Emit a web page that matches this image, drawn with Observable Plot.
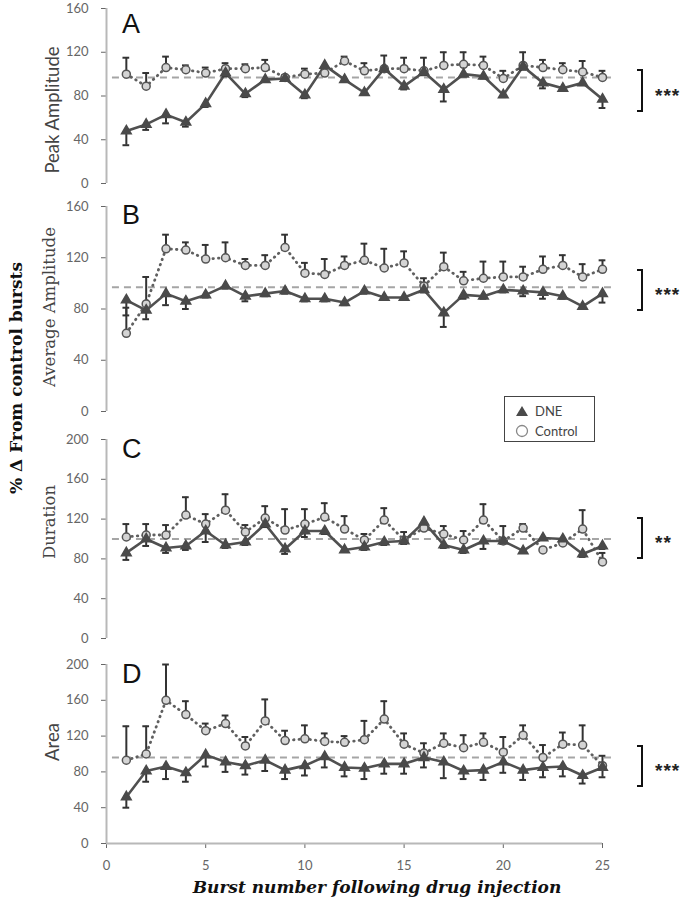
<!DOCTYPE html>
<html><head><meta charset="utf-8">
<script src="https://cdn.jsdelivr.net/npm/d3@7"></script>
<script src="https://cdn.jsdelivr.net/npm/@observablehq/plot@0.6"></script>
<style>
body{margin:0;background:#fff;}
#wrap{position:relative;width:689px;height:900px;overflow:hidden;background:#fff;}
.panel{position:absolute;left:0;}
.rot{position:absolute;white-space:nowrap;transform:translate(-50%,-50%) rotate(-90deg);line-height:1;}
.letter{position:absolute;font-family:"Liberation Sans",Arial,sans-serif;font-size:27px;line-height:27px;color:#111;}
.bracket{position:absolute;border:2.5px solid #111;border-left:none;width:6px;box-sizing:border-box;}
.stars{position:absolute;font-family:"Liberation Sans",sans-serif;font-weight:bold;font-size:19px;line-height:19px;color:#222;letter-spacing:1px;}
</style></head><body><div id="wrap"></div>
<script>
// ---- data ----
const bursts = [1,2,3,4,5,6,7,8,9,10,11,12,13,14,15,16,17,18,19,20,21,22,23,24,25];

const peakDNE   = [48,54,63,56,73,101,82,95,96,81,108,95,83,105,89,102,86,100,98,81,107,92,87,92,77];
const peakDNELo = [35,49,55,52,70,98,79,93,94,78,105,93,81,102,86,99,75,98,96,79,104,87,85,90,69];
const peakCtl   = [100,89,106,104,101,105,105,106,97,100,101,112,103,105,105,103,108,109,108,96,108,106,104,102,97];
const peakCtlHi = [115,101,116,108,106,110,109,113,99,105,104,116,110,117,115,115,120,120,116,103,120,113,110,112,103];

const avgDNE    = [87,79,92,86,91,98,90,92,94,88,88,85,94,89,89,95,77,91,90,95,94,93,90,82,92];
const avgDNELo  = [75,72,83,80,89,96,86,90,92,86,86,83,92,87,87,93,66,88,88,93,90,88,88,80,85];
const avgCtl    = [61,84,127,126,119,120,114,114,128,108,107,114,118,112,116,98,113,102,104,105,105,111,114,105,111];
const avgCtlHi  = [81,105,138,132,130,132,119,122,138,116,119,121,131,127,125,104,124,109,117,117,113,121,122,115,118];

const durDNE    = [86,100,91,93,108,94,97,115,90,108,108,89,92,97,98,117,94,89,98,98,88,101,100,85,93];
const durDNELo  = [79,93,86,89,97,91,94,112,85,102,105,87,89,94,95,114,91,86,90,95,86,99,98,82,90];
const durCtl    = [102,104,104,124,115,129,107,121,109,115,122,110,99,119,99,111,105,99,119,98,111,89,96,110,77];
const durCtlHi  = [115,115,114,142,125,145,114,133,130,130,136,123,105,131,107,113,113,108,135,113,115,90,97,129,86];

const areaDNE   = [52,81,86,79,99,91,87,93,82,87,97,85,84,89,89,96,91,81,82,91,82,85,86,76,85];
const areaDNELo = [40,69,72,69,86,80,77,81,72,76,85,75,72,78,78,85,73,72,71,79,71,74,75,67,74];
const areaCtl   = [93,100,160,144,126,134,109,137,115,117,114,113,116,139,111,101,112,107,113,102,121,96,111,110,87];
const areaCtlHi = [131,131,200,159,134,143,119,161,126,132,123,120,137,159,123,112,123,121,123,119,132,110,124,132,98];

const baselines = [97, 97, 100, 96];
const yTicks160 = [0,40,80,120,160];
const yTicks200 = [0,40,80,120,160,200];
const xTicks = [0,5,10,15,20,25];
const panelLetters = ["A","B","C","D"];
const panelLabels = ["Peak Amplitude","Average Amplitude","Duration","Area"];
const stars = ["***","***","**","***"];

// ---- drawing ----
const wrap = document.getElementById("wrap");

function panel(o){
  const data = bursts.map((b,i)=>({b, dne:o.dne[i], dneLo:o.dneLo[i], ctl:o.ctl[i], ctlHi:o.ctlHi[i]}));
  const cap = 0.17;
  const marks = [
    Plot.ruleX([0], {stroke:"#b8b8b8", strokeWidth:2}),
    o.xAxis ? Plot.ruleY([0], {stroke:"#b8b8b8", strokeWidth:2}) : null,
    Plot.ruleY([o.base], {x1:()=>0.3, x2:()=>25.5, stroke:"#a5a5a5", strokeWidth:2, strokeDasharray:"7,5"}),
    Plot.line(data, {x:"b", y:"ctl", stroke:"#606060", strokeWidth:2.8, strokeDasharray:"0.5,5", strokeLinecap:"round"}),
    Plot.ruleX(data, {x:"b", y1:"ctl", y2:"ctlHi", stroke:"#333", strokeWidth:2}),
    Plot.ruleY(data, {y:"ctlHi", x1:d=>d.b-cap, x2:d=>d.b+cap, stroke:"#333", strokeWidth:2}),
    Plot.line(data, {x:"b", y:"dne", stroke:"#505050", strokeWidth:2.6}),
    Plot.ruleX(data, {x:"b", y1:"dne", y2:"dneLo", stroke:"#333", strokeWidth:2}),
    Plot.ruleY(data, {y:"dneLo", x1:d=>d.b-cap, x2:d=>d.b+cap, stroke:"#333", strokeWidth:2}),
    Plot.dot(data, {x:"b", y:"ctl", r:4, fill:"#d4d4d4", stroke:"#555", strokeWidth:1.5}),
    Plot.dot(data, {x:"b", y:"dne", symbol:"triangle", r:3.6, fill:"#4a4a4a", stroke:"#4a4a4a"})
  ].filter(Boolean);
  const svg = Plot.plot({
    width:689, height:o.height,
    marginLeft:106, marginRight:87, marginTop:o.mt, marginBottom:o.mb,
    style:{background:"transparent", overflow:"visible", color:"#666", fontFamily:"Lato, sans-serif", fontSize:"13px"},
    x:{domain:[0,25], axis:o.xAxis ? "bottom" : null, ticks:xTicks, tickSize:5, tickPadding:12, label:null},
    y:{domain:o.yDomain, ticks:o.yTicks, tickSize:5, tickPadding:13, label:null},
    marks
  });
  svg.classList.add("panel");
  svg.style.top = o.top + "px";
  wrap.appendChild(svg);
}

panel({top:0, mt:8, mb:10, height:193, yDomain:[0,160], yTicks:yTicks160, dne:peakDNE, dneLo:peakDNELo, ctl:peakCtl, ctlHi:peakCtlHi, base:baselines[0]});
panel({top:196, mt:10, mb:10, height:225, yDomain:[0,160], yTicks:yTicks160, dne:avgDNE, dneLo:avgDNELo, ctl:avgCtl, ctlHi:avgCtlHi, base:baselines[1]});
panel({top:429, mt:10, mb:10, height:219, yDomain:[0,200], yTicks:yTicks200, dne:durDNE, dneLo:durDNELo, ctl:durCtl, ctlHi:durCtlHi, base:baselines[2]});
panel({top:654, mt:10, mb:35, height:224, yDomain:[0,200], yTicks:yTicks200, dne:areaDNE, dneLo:areaDNELo, ctl:areaCtl, ctlHi:areaCtlHi, base:baselines[3], xAxis:true});

function addDiv(cls, text, css){
  const d = document.createElement("div");
  d.className = cls; d.textContent = text;
  Object.assign(d.style, css);
  wrap.appendChild(d);
  return d;
}

// panel letters
const letterTops = [11, 202, 436, 661];
panelLetters.forEach((t,i)=>addDiv("letter", t, {left:"122px", top:letterTops[i]+"px"}));

// panel y labels
const labelPos = [[52,110],[50,307],[50,522],[52,742]];
const labelFonts = [
  {fontFamily:"Lato, sans-serif", fontSize:"18.5px"},
  {fontFamily:"'DejaVu Serif', serif", fontSize:"16.5px"},
  {fontFamily:"'DejaVu Serif', serif", fontSize:"16.5px"},
  {fontFamily:"Lato, sans-serif", fontSize:"18.5px"}
];
panelLabels.forEach((t,i)=>addDiv("rot", t, Object.assign({left:labelPos[i][0]+"px", top:labelPos[i][1]+"px", color:"#444"}, labelFonts[i])));

// global y label
addDiv("rot", "% \u0394 From control bursts", {left:"16px", top:"378px", fontFamily:"'DejaVu Serif', serif", fontWeight:"bold", fontSize:"17px", color:"#111"});

// x title
addDiv("", "Burst number following drug injection", {position:"absolute", left:"377px", top:"887px", transform:"translate(-50%,-50%)", whiteSpace:"nowrap", fontFamily:"'DejaVu Serif', serif", fontWeight:"bold", fontStyle:"italic", fontSize:"17px", color:"#111"});

// significance brackets
const bracketY = [[69,112],[269,311],[517,559],[745,787]];
bracketY.forEach((b,i)=>{
  addDiv("bracket", "", {left:"637px", top:b[0]+"px", height:(b[1]-b[0])+"px"});
  addDiv("stars", stars[i], {left:"655px", top:((b[0]+b[1])/2 - 5)+"px"});
});

// legend
const leg = document.createElement("div");
Object.assign(leg.style, {position:"absolute", left:"504px", top:"396px", width:"91px", height:"46px", border:"1.5px solid #444", boxSizing:"border-box", background:"#fff", fontFamily:"Lato, sans-serif", fontSize:"13px", color:"#444"});
leg.innerHTML = `
<div style="position:absolute;left:10px;top:7px;height:14px;display:flex;align-items:center;">
<svg width="14" height="12"><path d="M7 1 L13 11 L1 11 Z" fill="#4a4a4a"/></svg><span style="margin-left:6px;">DNE</span></div>
<div style="position:absolute;left:10px;top:27px;height:14px;display:flex;align-items:center;">
<svg width="14" height="14"><circle cx="7" cy="7" r="5.5" fill="#fff" stroke="#888" stroke-width="1.3"/></svg><span style="margin-left:6px;">Control</span></div>`;
wrap.appendChild(leg);
</script></body></html>
